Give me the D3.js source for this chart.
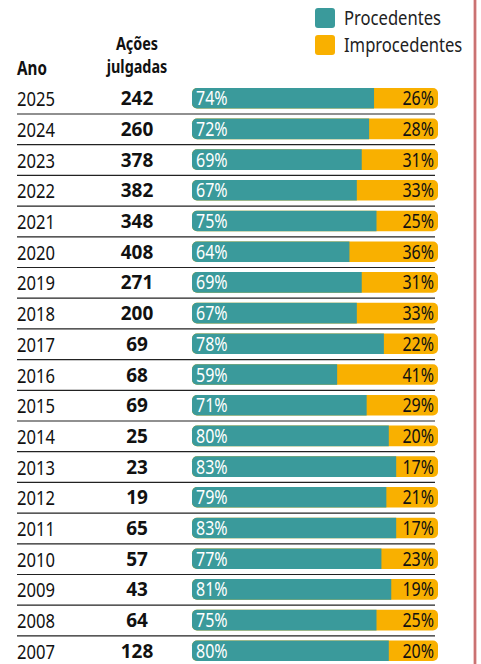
<!DOCTYPE html>
<html>
<head>
<meta charset="utf-8">
<script src="https://cdn.jsdelivr.net/npm/d3@7"></script>
<style>
  body { margin: 0; background: #fff; }
  svg text { font-family: "Noto Sans", "Open Sans", sans-serif; }
</style>
</head>
<body>
<div id="chart"></div>
<script>
(function(){

    var years = [2025, 2024, 2023, 2022, 2021, 2020, 2019, 2018, 2017, 2016, 2015, 2014, 2013, 2012, 2011, 2010, 2009, 2008, 2007];
    var julgadas = [242, 260, 378, 382, 348, 408, 271, 200, 69, 68, 69, 25, 23, 19, 65, 57, 43, 64, 128];
    var procedentes = [74, 72, 69, 67, 75, 64, 69, 67, 78, 59, 71, 80, 83, 79, 83, 77, 81, 75, 80];
    var improcedentes = [26, 28, 31, 33, 25, 36, 31, 33, 22, 41, 29, 20, 17, 21, 17, 23, 19, 25, 20];
    var seriesNames = ["Procedentes", "Improcedentes"];
    var colors = ["#3a9a9b", "#f9b000"];

    var width = 481, height = 664;
    var narrow = 0.83; // no condensed face installed, squeeze horizontally

    var svg = d3.select("#chart")
        .append("svg")
        .attr("width", width)
        .attr("height", height);

    // place text squeezed around its own anchor
    var squeeze = function(sel, fx, fy, s) {
        sel.attr("transform", function(d, i) {
            var xx = typeof fx === "function" ? fx(d, i) : fx;
            var yy = typeof fy === "function" ? fy(d, i) : fy;
            return "translate(" + xx + "," + yy + ") scale(" + (s || narrow) + ",1)";
        });
        return sel;
    };

    // rows
    var y = d3.scaleBand()
        .domain(years)
        .range([83, 666])
        .paddingInner(0.33)
        .paddingOuter(0.16);

    var x = d3.scaleLinear()
        .domain([0, 100])
        .range([192, 438]);

    var rows = years.map(function(d, i) {
        return {year: d, n: julgadas[i], p: procedentes[i], q: improcedentes[i]};
    });
    var mid = function(d) { return y(d.year) + y.bandwidth() / 2; };

    // separator lines
    svg.selectAll("line.sep")
        .data(rows.slice(0, -1))
        .enter()
        .append("line")
        .attr("class", "sep")
        .attr("x1", 17)
        .attr("x2", 435)
        .attr("y1", function(d) { return y(d.year) + y.bandwidth() + 5.5; })
        .attr("y2", function(d) { return y(d.year) + y.bandwidth() + 5.5; })
        .attr("stroke", "#222")
        .attr("stroke-width", 1.2);

    var g = svg.selectAll("g.row")
        .data(rows)
        .enter()
        .append("g")
        .attr("class", "row");

    // orange full bar (rounded), teal over it
    g.append("rect")
        .attr("x", x(0))
        .attr("y", function(d) { return y(d.year); })
        .attr("width", x(100) - x(0))
        .attr("height", y.bandwidth())
        .attr("rx", 5)
        .attr("fill", colors[1]);

    g.append("path")
        .attr("fill", colors[0])
        .attr("d", function(d) {
            var x0 = x(0), x1 = x(d.p), y0 = y(d.year), h = y.bandwidth(), r = 5;
            return "M" + (x0 + r) + "," + y0 + "H" + x1 + "V" + (y0 + h) + "H" + (x0 + r) +
                "A" + r + "," + r + " 0 0 1 " + x0 + "," + (y0 + h - r) +
                "V" + (y0 + r) + "A" + r + "," + r + " 0 0 1 " + (x0 + r) + "," + y0 + "Z";
        });

    squeeze(g.append("text"), x(0) + 4, function(d) { return mid(d) + 7; }, 0.8)
        .attr("fill", "#fff")
        .attr("font-size", 20)
        .text(function(d) { return d.p + "%"; });

    squeeze(g.append("text"), x(100) - 4, function(d) { return mid(d) + 7; }, 0.8)
        .attr("text-anchor", "end")
        .attr("fill", "#111")
        .attr("font-size", 20)
        .text(function(d) { return d.q + "%"; });

    squeeze(g.append("text"), 17, function(d) { return mid(d) + 8; })
        .attr("fill", "#111")
        .attr("font-size", 20)
        .text(function(d) { return d.year; });

    squeeze(g.append("text"), 137, function(d) { return mid(d) + 7; }, 0.95)
        .attr("text-anchor", "middle")
        .attr("fill", "#111")
        .attr("font-size", 20)
        .attr("font-weight", "bold")
        .text(function(d) { return d.n; });

    // headers
    squeeze(svg.append("text"), 17, 75, 0.8)
        .attr("font-size", 19).attr("font-weight", "bold").attr("fill", "#111")
        .text("Ano");
    squeeze(svg.append("text"), 137, 50, 0.8)
        .attr("text-anchor", "middle")
        .attr("font-size", 18).attr("font-weight", "bold").attr("fill", "#111")
        .text("Ações");
    squeeze(svg.append("text"), 137, 73, 0.8)
        .attr("text-anchor", "middle")
        .attr("font-size", 18).attr("font-weight", "bold").attr("fill", "#111")
        .text("julgadas");

    // legend
    var leg = svg.selectAll("g.leg")
        .data(seriesNames)
        .enter()
        .append("g")
        .attr("class", "leg")
        .attr("transform", function(d, i) { return "translate(315," + (8 + i * 27) + ")"; });

    leg.append("rect")
        .attr("width", 20).attr("height", 20).attr("rx", 3)
        .attr("fill", function(d, i) { return colors[i]; });

    squeeze(leg.append("text"), 29, 17)
        .attr("font-size", 20).attr("fill", "#222")
        .text(function(d) { return d; });

    // right border
    svg.append("line")
        .attr("x1", 475).attr("x2", 475)
        .attr("y1", 0).attr("y2", height)
        .attr("stroke", "#f0c8c8").attr("stroke-width", 4);
    svg.append("line")
        .attr("x1", 475).attr("x2", 475)
        .attr("y1", 0).attr("y2", height)
        .attr("stroke", "#b03a3a").attr("stroke-width", 1.2);

})();
</script>
</body>
</html>
